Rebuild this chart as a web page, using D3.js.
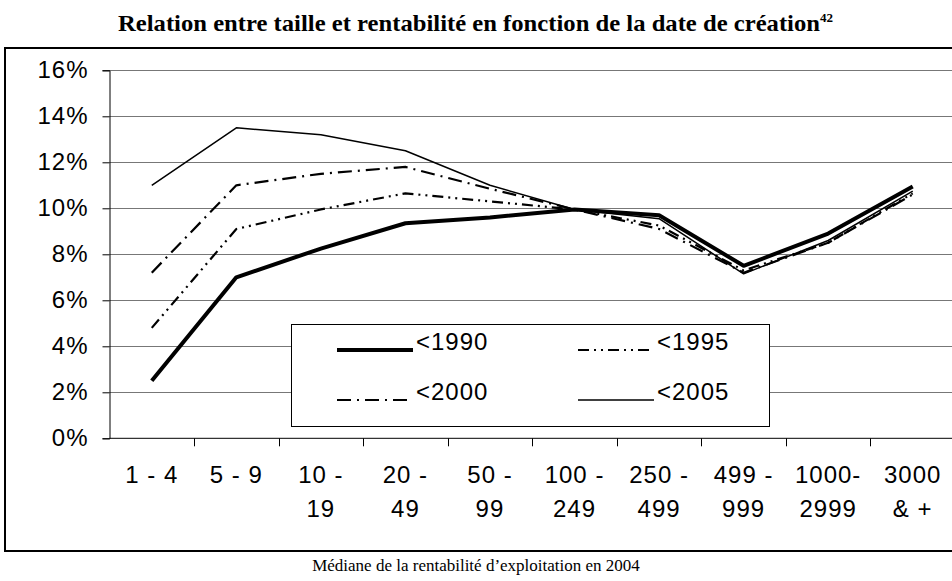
<!DOCTYPE html>
<html>
<head>
<meta charset="utf-8">
<script src="https://cdn.jsdelivr.net/npm/d3@7"></script>
<style>
  body { margin: 0; background: #fff; }
  svg { display: block; }
</style>
</head>
<body>
<div class="display"></div>
<script>
// Relation entre taille et rentabilité, one line per creation date

const WIDTH = 952;
const HEIGHT = 581;

// Plot area (the last band runs a little past the window, as in the original)
const PLOT_LEFT = 109.5;
const PLOT_RIGHT = 955;
const PLOT_TOP = 70.3;
const PLOT_BOTTOM = 438.3;

const SANS = '"Liberation Sans", Arial, sans-serif';
const SERIF = '"Liberation Serif", "Times New Roman", serif';
const FONT_SIZE = 24;

const categories = ['1 - 4', '5 - 9', '10 - 19', '20 - 49', '50 - 99', '100 - 249', '250 - 499', '499 - 999', '1000-2999', '3000 & +'];
const labelLines = [['1 - 4'], ['5 - 9'], ['10 -', '19'], ['20 -', '49'], ['50 -', '99'], ['100 -', '249'], ['250 -', '499'], ['499 -', '999'], ['1000-', '2999'], ['3000', '& +']];

const seriesNames = ['<1990', '<1995', '<2000', '<2005'];
const values1990 = [2.5, 7.0, 8.25, 9.35, 9.6, 9.95, 9.7, 7.5, 8.9, 10.95];
const values1995 = [4.8, 9.1, 9.95, 10.65, 10.3, 9.95, 9.25, 7.3, 8.5, 10.65];
const values2000 = [7.2, 11.0, 11.5, 11.8, 10.85, 9.95, 9.1, 7.2, 8.5, 10.6];
const values2005 = [11.0, 13.5, 13.2, 12.5, 11.0, 9.95, 9.55, 7.15, 8.6, 10.75];
const yTicks = [0, 2, 4, 6, 8, 10, 12, 14, 16];

// stroke styles per series
const styles = {
  '<1990': { width: 4, dash: null },
  '<1995': { width: 2.2, dash: '11,5,2,5,2,5' },
  '<2000': { width: 2.2, dash: '14,6,2,6' },
  '<2005': { width: 1.5, dash: null }
};

const series = [
  { name: '<1990', values: values1990 },
  { name: '<1995', values: values1995 },
  { name: '<2000', values: values2000 },
  { name: '<2005', values: values2005 }
];

const svg = d3.select('.display')
  .append('svg')
  .attr('width', WIDTH)
  .attr('height', HEIGHT);

const x = d3.scaleBand()
  .domain(categories)
  .range([PLOT_LEFT, PLOT_RIGHT]);

const y = d3.scaleLinear()
  .domain([0, 16])
  .range([PLOT_BOTTOM, PLOT_TOP]);

// Title with footnote number
const title = svg.append('text')
  .attr('x', 118)
  .attr('y', 31)
  .attr('font-family', SERIF)
  .attr('font-weight', 'bold')
  .attr('font-size', 23)
  .attr('fill', '#000');
title.append('tspan')
  .attr('textLength', 702)
  .attr('lengthAdjust', 'spacingAndGlyphs')
  .text('Relation entre taille et rentabilité en fonction de la date de création');
title.append('tspan').attr('font-size', 13).attr('dy', -9).text('42');

// Outer chart frame
svg.append('rect')
  .attr('x', 5)
  .attr('y', 48)
  .attr('width', 960)
  .attr('height', 503)
  .attr('fill', 'none')
  .attr('stroke', '#000')
  .attr('stroke-width', 2);

// Horizontal gridlines
svg.append('g')
  .selectAll('line')
  .data(yTicks.filter(d => d > 0))
  .enter()
  .append('line')
  .attr('x1', PLOT_LEFT)
  .attr('x2', PLOT_RIGHT)
  .attr('y1', d => Math.round(y(d)) + 0.5)
  .attr('y2', d => Math.round(y(d)) + 0.5)
  .attr('stroke', '#777')
  .attr('stroke-width', 1);

// Y axis
const yAxis = svg.append('g')
  .attr('transform', `translate(${PLOT_LEFT}, 0)`)
  .call(d3.axisLeft(y).tickValues(yTicks).tickSize(7).tickPadding(14).tickFormat(d => d + '%'));
yAxis.select('.domain').attr('stroke', '#000');
yAxis.selectAll('.tick line').attr('stroke', '#000');
yAxis.selectAll('text')
  .attr('font-family', SANS)
  .attr('font-size', FONT_SIZE)
  .attr('letter-spacing', 1)
  .attr('fill', '#000');

// X axis: ticks on band boundaries, labels wrapped on two lines
svg.append('line')
  .attr('x1', PLOT_LEFT)
  .attr('x2', PLOT_RIGHT)
  .attr('y1', PLOT_BOTTOM)
  .attr('y2', PLOT_BOTTOM)
  .attr('stroke', '#000');

svg.append('g')
  .selectAll('line')
  .data(categories.slice(1))
  .enter()
  .append('line')
  .attr('x1', d => Math.round(x(d)) + 0.5)
  .attr('x2', d => Math.round(x(d)) + 0.5)
  .attr('y1', PLOT_BOTTOM)
  .attr('y2', PLOT_BOTTOM + 8)
  .attr('stroke', '#000');

const xLabels = svg.append('g')
  .selectAll('text')
  .data(categories)
  .enter()
  .append('text')
  .attr('text-anchor', 'middle')
  .attr('font-family', SANS)
  .attr('font-size', FONT_SIZE)
  .attr('letter-spacing', 1)
  .attr('fill', '#000');

xLabels.each(function(d, i) {
  const cx = x(d) + x.bandwidth() / 2;
  d3.select(this).selectAll('tspan')
    .data(labelLines[i])
    .enter()
    .append('tspan')
    .attr('x', cx)
    .attr('y', (t, j) => 483 + j * 34)
    .text(t => t);
});

// Series lines
const line = d3.line()
  .x((d, i) => x(categories[i]) + x.bandwidth() / 2)
  .y(d => y(d));

svg.append('g')
  .selectAll('path')
  .data(series)
  .enter()
  .append('path')
  .attr('d', d => line(d.values))
  .attr('fill', 'none')
  .attr('stroke', '#000')
  .attr('stroke-width', d => styles[d.name].width)
  .attr('stroke-dasharray', d => styles[d.name].dash)
  .attr('stroke-linejoin', 'round');

// Legend
const legend = svg.append('g');
legend.append('rect')
  .attr('x', 291.5)
  .attr('y', 324.5)
  .attr('width', 478)
  .attr('height', 102)
  .attr('fill', '#fff')
  .attr('stroke', '#000')
  .attr('stroke-width', 1);

const legendPos = [
  { x: 337, y: 350 },
  { x: 578, y: 350 },
  { x: 337, y: 400 },
  { x: 578, y: 400 }
];

seriesNames.forEach((name, i) => {
  const p = legendPos[i];
  legend.append('line')
    .attr('x1', p.x)
    .attr('x2', p.x + 76)
    .attr('y1', p.y)
    .attr('y2', p.y)
    .attr('stroke', '#000')
    .attr('stroke-width', styles[name].width)
    .attr('stroke-dasharray', styles[name].dash);
  legend.append('text')
    .attr('x', p.x + 79)
    .attr('y', p.y)
    .attr('font-family', SANS)
    .attr('font-size', FONT_SIZE)
    .attr('letter-spacing', 1)
    .attr('fill', '#000')
    .text(name);
});

// Caption under the frame
svg.append('text')
  .attr('x', 476)
  .attr('y', 571)
  .attr('text-anchor', 'middle')
  .attr('font-family', SERIF)
  .attr('font-size', 17)
  .attr('fill', '#000')
  .text('Médiane de la rentabilité d’exploitation en 2004');
</script>
</body>
</html>
